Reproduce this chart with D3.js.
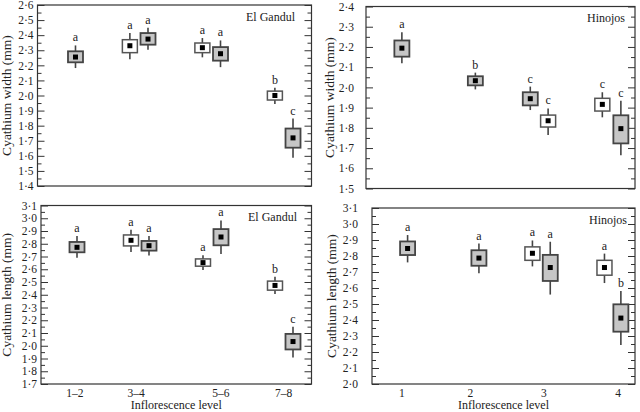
<!DOCTYPE html>
<html>
<head>
<meta charset="utf-8">
<script src="https://cdn.jsdelivr.net/npm/d3@7"></script>
<style>
  body { margin: 0; background: #fff; }
  svg { display: block; }
  svg text { font-family: "Liberation Serif", "Times New Roman", "DejaVu Serif", serif !important; fill: #222; }
</style>
</head>
<body>
<svg id="chart" width="640" height="412"></svg>
<script>
// each row: [x position, series ("w" = white, "g" = grey), mean, box low, box high, whisker low, whisker high, letter]
var gandulWidth = [
    [1.00, "g", 2.255, 2.220, 2.293, 2.182, 2.332, "a"],
    [1.75, "w", 2.330, 2.284, 2.370, 2.240, 2.414, "a"],
    [2.00, "g", 2.374, 2.337, 2.414, 2.303, 2.449, "a"],
    [2.75, "w", 2.317, 2.284, 2.348, 2.253, 2.381, "a"],
    [3.00, "g", 2.277, 2.231, 2.321, 2.188, 2.365, "a"],
    [3.75, "w", 2.000, 1.970, 2.029, 1.943, 2.051, "b"],
    [4.00, "g", 1.719, 1.654, 1.781, 1.588, 1.847, "c"]
];
var hinojosWidth = [
    [0.97, "g", 2.194, 2.152, 2.232, 2.119, 2.273, "a"],
    [2.00, "g", 2.033, 2.010, 2.055, 1.990, 2.073, "b"],
    [2.77, "g", 1.944, 1.911, 1.976, 1.888, 2.004, "c"],
    [3.02, "w", 1.835, 1.804, 1.863, 1.764, 1.896, "c"],
    [3.78, "w", 1.916, 1.883, 1.946, 1.852, 1.976, "c"],
    [4.04, "g", 1.796, 1.723, 1.862, 1.665, 1.934, "c"]
];
var gandulLength = [
    [1.00, "g", 2.772, 2.733, 2.814, 2.691, 2.861, "a"],
    [1.75, "w", 2.827, 2.783, 2.869, 2.736, 2.910, "a"],
    [2.00, "g", 2.785, 2.746, 2.822, 2.707, 2.861, "a"],
    [2.75, "w", 2.652, 2.624, 2.681, 2.595, 2.710, "a"],
    [3.00, "g", 2.853, 2.788, 2.915, 2.720, 2.983, "a"],
    [3.75, "w", 2.473, 2.436, 2.507, 2.405, 2.541, "b"],
    [4.00, "g", 2.033, 1.971, 2.093, 1.908, 2.150, "c"]
];
var hinojosLength = [
    [1.05, "g", 2.847, 2.806, 2.891, 2.760, 2.931, "a"],
    [2.05, "g", 2.787, 2.739, 2.836, 2.692, 2.878, "a"],
    [2.80, "w", 2.817, 2.773, 2.857, 2.735, 2.897, "a"],
    [3.05, "g", 2.728, 2.644, 2.807, 2.559, 2.889, "a"],
    [3.81, "w", 2.728, 2.680, 2.773, 2.631, 2.815, "a"],
    [4.04, "g", 2.412, 2.327, 2.498, 2.243, 2.581, "b"]
];

var gandulLevels = ["1–2", "3–4", "5–6", "7–8"];
var gandulTickPos = [0.97, 1.82, 3.0, 3.87];
var hinojosLevels = ["1", "2", "3", "4"];
var hinojosTickPos = [0.97, 1.93, 2.96, 4.0];

var panels = [
    {data: gandulWidth, site: "El Gandul", ytitle: "Cyathium width (mm)", yDomain: [1.4, 2.6], xDomain: [0.476, 4.255],
     left: 37.5, right: 311.5, top: 5, bottom: 186, titleX: 11, labelPad: 4, siteX: 295},
    {data: hinojosWidth, site: "Hinojos", ytitle: "Cyathium width (mm)", yDomain: [1.5, 2.4], xDomain: [0.467, 4.238],
     left: 366, right: 635, top: 6.5, bottom: 188.5, titleX: 334, labelPad: 12, siteX: 625},
    {data: gandulLength, site: "El Gandul", ytitle: "Cyathium length (mm)", yDomain: [1.7, 3.1], xDomain: [0.5, 4.257],
     left: 41, right: 311.5, top: 205.5, bottom: 384, titleX: 11, labelPad: 4, siteX: 297,
     levels: gandulLevels, tickPos: gandulTickPos},
    {data: hinojosLength, site: "Hinojos", ytitle: "Cyathium length (mm)", yDomain: [2.0, 3.1], xDomain: [0.551, 4.238],
     left: 372, right: 635, top: 208, bottom: 384, titleX: 336, labelPad: 14, siteX: 627,
     levels: hinojosLevels, tickPos: hinojosTickPos}
];

var svg = d3.select("#chart");
var fmt = function(d) { return d3.format(".1f")(d).replace(".", "·"); };

function steps(lo, hi, step) {
    var n = Math.round((hi - lo) / step);
    return d3.range(n + 1).map(function(i) { return +(lo + i * step).toFixed(2); });
}

function drawPanel(p) {
    var x = d3.scaleLinear().domain(p.xDomain).range([p.left, p.right]);
    var y = d3.scaleLinear().domain(p.yDomain).range([p.bottom, p.top]);
    var g = svg.append("g");

    var major = steps(p.yDomain[0], p.yDomain[1], 0.1);
    var minor = steps(p.yDomain[0] + 0.05, p.yDomain[1] - 0.05, 0.1);

    // left axis, ticks pointing inward
    g.append("g")
        .attr("transform", "translate(" + p.left + ",0)")
        .call(d3.axisLeft(y).tickValues(major).tickSize(-7).tickPadding(p.labelPad).tickFormat(fmt))
        .call(function(a) {
            a.attr("font-family", null);
            a.select(".domain").remove();
            a.selectAll("line").attr("stroke", "#333");
            a.selectAll("text").attr("font-size", 11.5).attr("fill", "#222");
        });
    g.append("g")
        .attr("transform", "translate(" + p.left + ",0)")
        .call(d3.axisLeft(y).tickValues(minor).tickSize(-4).tickFormat(""))
        .call(function(a) { a.select(".domain").remove(); a.selectAll("line").attr("stroke", "#333"); });

    // right axis mirrors
    g.append("g")
        .attr("transform", "translate(" + p.right + ",0)")
        .call(d3.axisRight(y).tickValues(major).tickSize(-7).tickFormat(""))
        .call(function(a) { a.select(".domain").remove(); a.selectAll("line").attr("stroke", "#333"); });
    g.append("g")
        .attr("transform", "translate(" + p.right + ",0)")
        .call(d3.axisRight(y).tickValues(minor).tickSize(-4).tickFormat(""))
        .call(function(a) { a.select(".domain").remove(); a.selectAll("line").attr("stroke", "#333"); });

    // frame
    g.append("rect")
        .attr("x", p.left).attr("y", p.top)
        .attr("width", p.right - p.left).attr("height", p.bottom - p.top)
        .attr("fill", "none").attr("stroke", "#333").attr("stroke-width", 1.2);

    // x tick labels (bottom row only)
    if (p.levels) {
        g.selectAll(".xlab").data(p.levels).enter().append("text")
            .attr("x", function(d, i) { return x(p.tickPos[i]); })
            .attr("y", p.bottom + 13)
            .attr("text-anchor", "middle")
            .attr("font-size", 11.5)
            .text(function(d) { return d; });
        g.append("text")
            .attr("x", (p.left + p.right) / 2)
            .attr("y", p.bottom + 25)
            .attr("text-anchor", "middle")
            .attr("font-size", 12)
            .text("Inflorescence level");
    }

    // y title
    g.append("text")
        .attr("transform", "translate(" + p.titleX + "," + ((p.top + p.bottom) / 2) + ") rotate(-90)")
        .attr("text-anchor", "middle")
        .attr("font-size", 13.5)
        .text(p.ytitle);

    // site label
    g.append("text")
        .attr("x", p.siteX).attr("y", p.top + 15.5)
        .attr("text-anchor", "end")
        .attr("font-size", 12)
        .text(p.site);

    var boxW = 15;
    var rows = g.selectAll(".box").data(p.data).enter().append("g");

    rows.append("line")
        .attr("x1", function(d) { return x(d[0]); })
        .attr("x2", function(d) { return x(d[0]); })
        .attr("y1", function(d) { return y(d[5]); })
        .attr("y2", function(d) { return y(d[6]); })
        .attr("stroke", "#444").attr("stroke-width", 1.6);

    rows.append("rect")
        .attr("x", function(d) { return x(d[0]) - boxW / 2; })
        .attr("y", function(d) { return y(d[4]); })
        .attr("width", boxW)
        .attr("height", function(d) { return y(d[3]) - y(d[4]); })
        .attr("fill", function(d) { return d[1] == "g" ? "#c6c6c6" : "#fff"; })
        .attr("stroke", function(d) { return d[1] == "g" ? "#444" : "#555"; })
        .attr("stroke-width", function(d) { return d[1] == "g" ? 1.8 : 1.5; });

    rows.append("rect")
        .attr("x", function(d) { return x(d[0]) - 2.5; })
        .attr("y", function(d) { return y(d[2]) - 2.5; })
        .attr("width", 5).attr("height", 5)
        .attr("fill", "#000");

    rows.append("text")
        .attr("x", function(d) { return x(d[0]); })
        .attr("y", function(d) { return y(d[6]) - 4; })
        .attr("text-anchor", "middle")
        .attr("font-size", 12)
        .text(function(d) { return d[7]; });
}

panels.forEach(drawPanel);
</script>
</body>
</html>
